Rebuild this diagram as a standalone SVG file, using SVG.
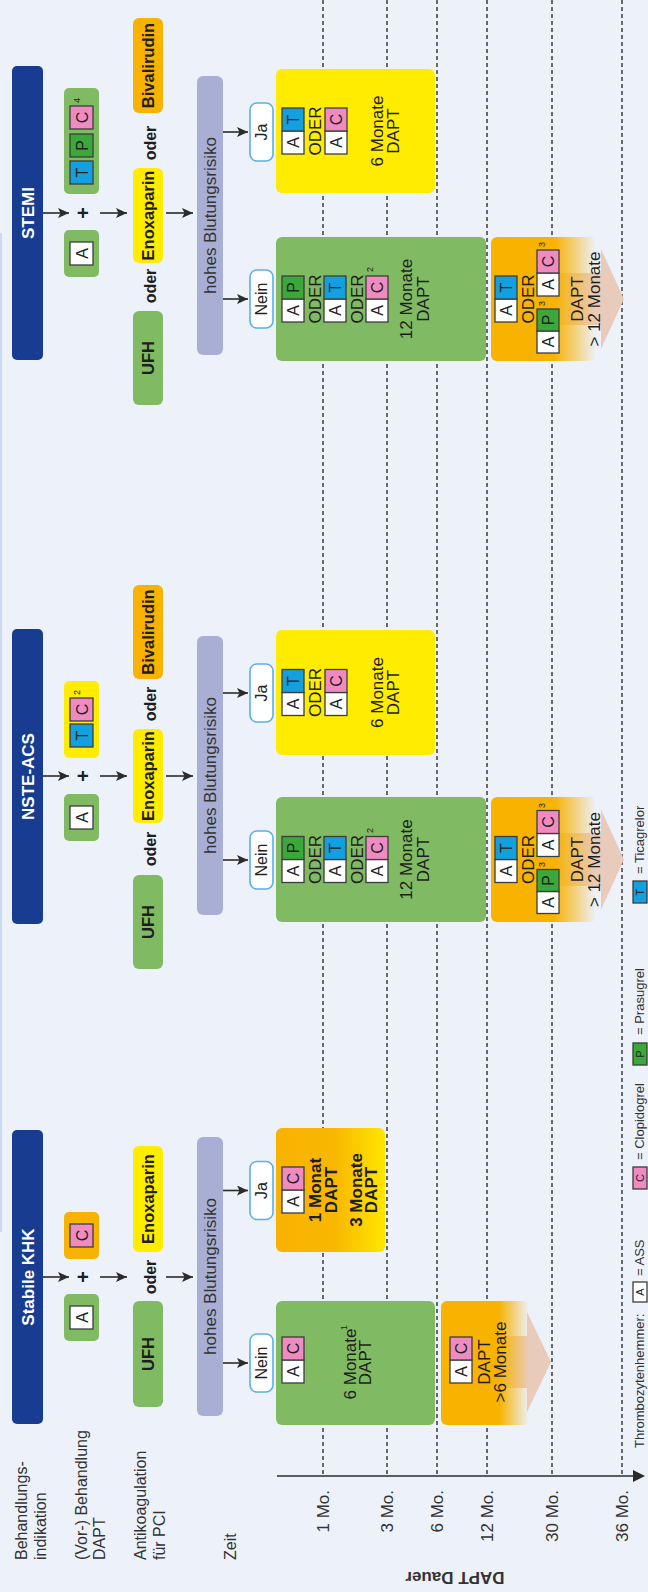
<svg xmlns="http://www.w3.org/2000/svg" width="648" height="1592" viewBox="0 0 648 1592">
<defs>
<style>
.lbl{font-family:"Liberation Sans",Arial,sans-serif;font-size:16px;fill:#333}
.ht{font-family:"Liberation Sans Narrow","Liberation Sans",Arial,sans-serif;font-stretch:condensed;font-weight:bold;font-size:17px;fill:#fff;text-anchor:middle}
.bt{font-family:"Liberation Sans Narrow","Liberation Sans",Arial,sans-serif;font-stretch:condensed;font-weight:bold;font-size:16.5px;fill:#1e1e1e;text-anchor:middle}
.od{font-family:"Liberation Sans",Arial,sans-serif;font-weight:bold;font-size:16px;fill:#1e1e1e;text-anchor:middle}
.pl{font-family:"Liberation Sans",Arial,sans-serif;font-weight:bold;font-size:20px;fill:#1e1e1e;text-anchor:middle}
.tx{font-family:"Liberation Sans Narrow","Liberation Sans",Arial,sans-serif;font-stretch:condensed;font-size:17px;fill:#1e1e1e;text-anchor:middle}
.txb{font-weight:bold}
.hb{font-family:"Liberation Sans",Arial,sans-serif;font-size:17px;fill:#333;text-anchor:middle}
.yn{font-family:"Liberation Sans",Arial,sans-serif;font-size:16px;fill:#222;text-anchor:middle}
.sl{font-family:"Liberation Sans",Arial,sans-serif;font-size:16px;fill:#222;text-anchor:middle}
.sls{font-family:"Liberation Sans",Arial,sans-serif;font-size:11px;fill:#222;text-anchor:middle}
.sup{font-family:"Liberation Sans",Arial,sans-serif;font-size:9px;fill:#222}
.mo{font-family:"Liberation Sans Narrow","Liberation Sans",Arial,sans-serif;font-stretch:condensed;font-size:17px;fill:#333;text-anchor:end}
.lg{font-family:"Liberation Sans",Arial,sans-serif;font-size:13px;fill:#333}
.hd{fill:#173c91}
.gr{fill:#80ba62}
.ye{fill:#ffec00}
.or{fill:#f8b200}
.lv{fill:#a9afd4}
.yb{fill:#fff;stroke:#5bb0e6;stroke-width:1.6}
.sq{stroke:#3c3c3c;stroke-width:1.3}
.a{fill:#fff}
.t{fill:#13a0df}
.p{fill:#3aa93a}
.c{fill:#f08bc1}
.dash{stroke:#474747;stroke-width:1.6;stroke-dasharray:4 3;fill:none}
.arr{fill:#e9cbbb}
.con{stroke:#2b2b2b;stroke-width:1.6;fill:none;marker-end:url(#ah)}
</style>
<marker id="ah" viewBox="0 0 11 10" refX="11" refY="5" markerWidth="11" markerHeight="10" orient="auto" markerUnits="userSpaceOnUse">
<path d="M0,0 L11,5 L0,10 L2.5,5 z" fill="#2b2b2b"/>
</marker>
<linearGradient id="gFade" x1="0" y1="0" x2="0" y2="1">
<stop offset="0" stop-color="#f8b200"/>
<stop offset="0.6" stop-color="#f8b200"/>
<stop offset="1" stop-color="#f8b200" stop-opacity="0"/>
</linearGradient>
<linearGradient id="gFadeK" x1="0" y1="0" x2="0" y2="1">
<stop offset="0" stop-color="#f8b200"/>
<stop offset="0.66" stop-color="#f8b200"/>
<stop offset="1" stop-color="#f8b200" stop-opacity="0"/>
</linearGradient>
<linearGradient id="gKja" x1="0" y1="0" x2="0" y2="1">
<stop offset="0" stop-color="#f8b200"/>
<stop offset="0.55" stop-color="#f9b800"/>
<stop offset="1" stop-color="#ffe600"/>
</linearGradient>
</defs>
<rect width="648" height="1592" fill="#edf1fa"/>
<!-- landscape layout, turned a quarter turn counter-clockwise -->
<g transform="matrix(0 -1 1 0 0 1592)">
<line x1="360" y1="1" x2="1359" y2="1" stroke="#c9dbf2" stroke-width="2"/>

<g id="row-labels">
<text class="lbl" x="32" y="26.5">Behandlungs-</text>
<text class="lbl" x="32" y="45.5">indikation</text>
<text class="lbl" x="32" y="87">(Vor-) Behandlung</text>
<text class="lbl" x="32" y="105">DAPT</text>
<text class="lbl" x="32" y="145.5">Antikoagulation</text>
<text class="lbl" x="32" y="164.5">für PCI</text>
<text class="lbl" x="32" y="236">Zeit</text>
</g>

<g id="time-axis">
<line class="dash" x1="118" y1="323" x2="1592" y2="323"/>
<line class="dash" x1="118" y1="387" x2="1592" y2="387"/>
<line class="dash" x1="118" y1="437" x2="1592" y2="437"/>
<line class="dash" x1="118" y1="487" x2="1592" y2="487"/>
<line class="dash" x1="118" y1="552" x2="1592" y2="552"/>
<line class="dash" x1="118" y1="622" x2="1592" y2="622"/>
<line x1="116" y1="277" x2="116" y2="636" stroke="#2b2b2b" stroke-width="1.6"/>
<polygon points="110,633 122,633 116,645" fill="#2b2b2b"/>
<text class="mo" x="102" y="329">1 Mo.</text>
<text class="mo" x="102" y="393">3 Mo.</text>
<text class="mo" x="102" y="443">6 Mo.</text>
<text class="mo" x="102" y="493">12 Mo.</text>
<text class="mo" x="102" y="558">30 Mo.</text>
<text class="mo" x="102" y="628">36 Mo.</text>
<text class="mo" transform="translate(20,455) rotate(-90)" style="text-anchor:middle;font-weight:bold" x="0" y="0">DAPT Dauer</text>
</g>

<!-- ===== Stabile KHK ===== -->
<g id="khk-header"><rect class="hd" x="168" y="12" width="294" height="31" rx="5"/><text class="ht" x="315" y="33.5">Stabile KHK</text></g>
<g id="khk-ass"><rect class="gr" x="251" y="64" width="47" height="35" rx="5"/><rect class="sq a" x="263" y="70" width="23" height="23"/><text class="sl" x="274.5" y="87.5">A</text></g>
<g id="khk-plus"><text class="pl" x="315" y="90">+</text></g>
<g id="khk-clopi"><rect class="or" x="333" y="64" width="47" height="35" rx="5"/><rect class="sq c" x="345" y="70" width="23" height="23"/><text class="sl" x="356.5" y="87.5">C</text></g>
<g id="khk-ufh"><rect class="gr" x="185" y="133" width="106" height="30" rx="6"/><text class="bt" x="238" y="154">UFH</text></g>
<g id="khk-oder"><text class="od" x="315" y="156">oder</text></g>
<g id="khk-enox"><rect class="ye" x="340" y="133" width="106" height="30" rx="6"/><text class="bt" x="393" y="154">Enoxaparin</text></g>
<g id="khk-risk"><rect class="lv" x="176" y="197" width="279" height="26" rx="6"/><text class="hb" x="315.5" y="216">hohes Blutungsrisiko</text></g>
<g id="khk-nein"><rect class="yb" x="200" y="250" width="58" height="23" rx="7"/><text class="yn" x="229" y="267">Nein</text></g>
<g id="khk-ja"><rect class="yb" x="372.5" y="250" width="58" height="23" rx="7"/><text class="yn" x="401.5" y="267">Ja</text></g>
<g id="khk-6m">
<rect class="gr" x="167" y="276" width="124" height="159" rx="6"/>
<rect class="sq a" x="209" y="282" width="23" height="22"/><rect class="sq c" x="232" y="282" width="23" height="22"/>
<text class="sl" x="220.5" y="299">A</text><text class="sl" x="243.5" y="299">C</text>
<text class="tx" x="228" y="356">6 Monate</text><text class="sup" x="262" y="347">1</text>
<text class="tx" x="229.5" y="371">DAPT</text>
</g>
<g id="khk-1m">
<rect x="340" y="276" width="124" height="109" rx="6" fill="url(#gKja)"/>
<rect class="sq a" x="379" y="282" width="23" height="22"/><rect class="sq c" x="402" y="282" width="23" height="22"/>
<text class="sl" x="390.5" y="299">A</text><text class="sl" x="413.5" y="299">C</text>
<text class="tx txb" x="402" y="321">1 Monat</text>
<text class="tx txb" x="402" y="337">DAPT</text>
<text class="tx txb" x="402" y="362">3 Monate</text>
<text class="tx txb" x="402" y="377">DAPT</text>
</g>
<g id="khk-long">
<polygon class="arr" points="204,490 256,490 256,527 280,527 230,551 180,527 204,527"/>
<rect x="167" y="441" width="124" height="88" rx="6" fill="url(#gFadeK)"/>
<rect class="sq a" x="209" y="450" width="23" height="22"/><rect class="sq c" x="232" y="450" width="23" height="22"/>
<text class="sl" x="220.5" y="467">A</text><text class="sl" x="243.5" y="467">C</text>
<text class="tx" x="230" y="490">DAPT</text>
<text class="tx" x="230" y="506">&gt;6 Monate</text>
</g>

<!-- ===== NSTE-ACS ===== -->
<g id="nste-header"><rect class="hd" x="668" y="12" width="295" height="31" rx="5"/><text class="ht" x="815.5" y="33.5">NSTE-ACS</text></g>
<g id="nste-ass"><rect class="gr" x="751" y="64" width="47" height="35" rx="5"/><rect class="sq a" x="763" y="70" width="23" height="23"/><text class="sl" x="774.5" y="87.5">A</text></g>
<g id="nste-plus"><text class="pl" x="816" y="90">+</text></g>
<g id="nste-p2y12"><rect class="ye" x="834" y="64" width="77" height="35" rx="5"/><rect class="sq t" x="845" y="70" width="23" height="23"/><text class="sl" x="856.5" y="87.5">T</text><rect class="sq c" x="871" y="70" width="23" height="23"/><text class="sl" x="882.5" y="87.5">C</text><text class="sup" x="897" y="80">2</text></g>
<g id="nste-ufh"><rect class="gr" x="623" y="133" width="94" height="30" rx="6"/><text class="bt" x="670" y="154">UFH</text></g>
<g id="nste-oder1"><text class="od" x="743" y="156">oder</text></g>
<g id="nste-enox"><rect class="ye" x="769" y="133" width="94" height="30" rx="6"/><text class="bt" x="816" y="154">Enoxaparin</text></g>
<g id="nste-oder2"><text class="od" x="888" y="156">oder</text></g>
<g id="nste-biva"><rect class="or" x="913" y="133" width="94" height="30" rx="6"/><text class="bt" x="960" y="154">Bivalirudin</text></g>
<g id="nste-risk"><rect class="lv" x="677" y="197" width="279" height="26" rx="6"/><text class="hb" x="816.5" y="216">hohes Blutungsrisiko</text></g>
<g id="nste-nein"><rect class="yb" x="703" y="250" width="58" height="23" rx="7"/><text class="yn" x="732" y="267">Nein</text></g>
<g id="nste-ja"><rect class="yb" x="870" y="250" width="58" height="23" rx="7"/><text class="yn" x="899" y="267">Ja</text></g>
<g id="nste-12m">
<rect class="gr" x="670" y="276" width="125" height="210" rx="6"/>
<rect class="sq a" x="709.5" y="282" width="23" height="22"/><rect class="sq p" x="732.5" y="282" width="23" height="22"/>
<text class="sl" x="721" y="299">A</text><text class="sl" x="744" y="299">P</text>
<text class="tx" x="732.5" y="321">ODER</text>
<rect class="sq a" x="709.5" y="324" width="23" height="22"/><rect class="sq t" x="732.5" y="324" width="23" height="22"/>
<text class="sl" x="721" y="341">A</text><text class="sl" x="744" y="341">T</text>
<text class="tx" x="732.5" y="363">ODER</text>
<rect class="sq a" x="709.5" y="366" width="23" height="22"/><rect class="sq c" x="732.5" y="366" width="23" height="22"/>
<text class="sl" x="721" y="383">A</text><text class="sl" x="744" y="383">C</text><text class="sup" x="759" y="373">2</text>
<text class="tx" x="732.5" y="412">12 Monate</text>
<text class="tx" x="732.5" y="429">DAPT</text>
</g>
<g id="nste-6m">
<rect class="ye" x="837" y="276" width="125" height="159" rx="6"/>
<rect class="sq a" x="876.5" y="282" width="23" height="22"/><rect class="sq t" x="899.5" y="282" width="23" height="22"/>
<text class="sl" x="888" y="299">A</text><text class="sl" x="911" y="299">T</text>
<text class="tx" x="899.5" y="321">ODER</text>
<rect class="sq a" x="876.5" y="325" width="23" height="22"/><rect class="sq c" x="899.5" y="325" width="23" height="22"/>
<text class="sl" x="888" y="342">A</text><text class="sl" x="911" y="342">C</text>
<text class="tx" x="899.5" y="383">6 Monate</text>
<text class="tx" x="899.5" y="399">DAPT</text>
</g>
<g id="nste-long">
<polygon class="arr" points="706,545 759,545 759,601 782.5,601 732.5,624 682.5,601 706,601"/>
<rect x="670" y="491" width="125" height="105" rx="6" fill="url(#gFade)"/>
<rect class="sq a" x="709.5" y="495" width="23" height="22"/><rect class="sq t" x="732.5" y="495" width="23" height="22"/>
<text class="sl" x="721" y="512">A</text><text class="sl" x="744" y="512">T</text>
<text class="tx" x="732.5" y="534">ODER</text>
<rect class="sq a" x="678.5" y="537" width="22" height="22"/><rect class="sq p" x="700.5" y="537" width="22" height="22"/>
<text class="sl" x="689.5" y="554">A</text><text class="sl" x="711.5" y="554">P</text><text class="sup" x="725" y="545">3</text>
<rect class="sq a" x="735.5" y="537" width="23" height="22"/><rect class="sq c" x="758.5" y="537" width="23" height="22"/>
<text class="sl" x="747" y="554">A</text><text class="sl" x="770" y="554">C</text><text class="sup" x="784" y="545">3</text>
<text class="tx" x="732.5" y="583">DAPT</text>
<text class="tx" x="732.5" y="600">&gt; 12 Monate</text>
</g>

<!-- ===== STEMI ===== -->
<g id="stemi-header"><rect class="hd" x="1232" y="12" width="294" height="31" rx="5"/><text class="ht" x="1379" y="33.5">STEMI</text></g>
<g id="stemi-ass"><rect class="gr" x="1315" y="64" width="47" height="35" rx="5"/><rect class="sq a" x="1327" y="70" width="23" height="23"/><text class="sl" x="1338.5" y="87.5">A</text></g>
<g id="stemi-plus"><text class="pl" x="1379" y="90">+</text></g>
<g id="stemi-p2y12"><rect class="gr" x="1398" y="64" width="106" height="35" rx="5"/><rect class="sq t" x="1408" y="70" width="23" height="23"/><text class="sl" x="1419.5" y="87.5">T</text><rect class="sq p" x="1435" y="70" width="23" height="23"/><text class="sl" x="1446.5" y="87.5">P</text><rect class="sq c" x="1463" y="70" width="23" height="23"/><text class="sl" x="1474.5" y="87.5">C</text><text class="sup" x="1489" y="80">4</text></g>
<g id="stemi-ufh"><rect class="gr" x="1187" y="133" width="94" height="30" rx="6"/><text class="bt" x="1234" y="154">UFH</text></g>
<g id="stemi-oder1"><text class="od" x="1306" y="156">oder</text></g>
<g id="stemi-enox"><rect class="ye" x="1329" y="133" width="95" height="30" rx="6"/><text class="bt" x="1376.5" y="154">Enoxaparin</text></g>
<g id="stemi-oder2"><text class="od" x="1449" y="156">oder</text></g>
<g id="stemi-biva"><rect class="or" x="1479" y="133" width="95" height="30" rx="6"/><text class="bt" x="1526.5" y="154">Bivalirudin</text></g>
<g id="stemi-risk"><rect class="lv" x="1237" y="197" width="279" height="26" rx="6"/><text class="hb" x="1376.5" y="216">hohes Blutungsrisiko</text></g>
<g id="stemi-nein"><rect class="yb" x="1264" y="250" width="58" height="23" rx="7"/><text class="yn" x="1293" y="267">Nein</text></g>
<g id="stemi-ja"><rect class="yb" x="1431" y="250" width="58" height="23" rx="7"/><text class="yn" x="1460" y="267">Ja</text></g>
<g id="stemi-12m">
<rect class="gr" x="1231" y="276" width="124" height="210" rx="6"/>
<rect class="sq a" x="1270" y="282" width="23" height="22"/><rect class="sq p" x="1293" y="282" width="23" height="22"/>
<text class="sl" x="1281.5" y="299">A</text><text class="sl" x="1304.5" y="299">P</text>
<text class="tx" x="1293" y="321">ODER</text>
<rect class="sq a" x="1270" y="324" width="23" height="22"/><rect class="sq t" x="1293" y="324" width="23" height="22"/>
<text class="sl" x="1281.5" y="341">A</text><text class="sl" x="1304.5" y="341">T</text>
<text class="tx" x="1293" y="363">ODER</text>
<rect class="sq a" x="1270" y="366" width="23" height="22"/><rect class="sq c" x="1293" y="366" width="23" height="22"/>
<text class="sl" x="1281.5" y="383">A</text><text class="sl" x="1304.5" y="383">C</text><text class="sup" x="1320" y="373">2</text>
<text class="tx" x="1293" y="412">12 Monate</text>
<text class="tx" x="1293" y="429">DAPT</text>
</g>
<g id="stemi-6m">
<rect class="ye" x="1399" y="276" width="124" height="159" rx="6"/>
<rect class="sq a" x="1438" y="282" width="23" height="22"/><rect class="sq t" x="1461" y="282" width="23" height="22"/>
<text class="sl" x="1449.5" y="299">A</text><text class="sl" x="1472.5" y="299">T</text>
<text class="tx" x="1461" y="321">ODER</text>
<rect class="sq a" x="1438" y="325" width="23" height="22"/><rect class="sq c" x="1461" y="325" width="23" height="22"/>
<text class="sl" x="1449.5" y="342">A</text><text class="sl" x="1472.5" y="342">C</text>
<text class="tx" x="1461" y="383">6 Monate</text>
<text class="tx" x="1461" y="399">DAPT</text>
</g>
<g id="stemi-long">
<polygon class="arr" points="1267,545 1319,545 1319,601 1343,601 1293,624 1243,601 1267,601"/>
<rect x="1231" y="491" width="124" height="105" rx="6" fill="url(#gFade)"/>
<rect class="sq a" x="1270" y="495" width="23" height="22"/><rect class="sq t" x="1293" y="495" width="23" height="22"/>
<text class="sl" x="1281.5" y="512">A</text><text class="sl" x="1304.5" y="512">T</text>
<text class="tx" x="1293" y="534">ODER</text>
<rect class="sq a" x="1239" y="537" width="22" height="22"/><rect class="sq p" x="1261" y="537" width="22" height="22"/>
<text class="sl" x="1250" y="554">A</text><text class="sl" x="1272" y="554">P</text><text class="sup" x="1286" y="545">3</text>
<rect class="sq a" x="1296" y="537" width="23" height="22"/><rect class="sq c" x="1319" y="537" width="23" height="22"/>
<text class="sl" x="1307.5" y="554">A</text><text class="sl" x="1330.5" y="554">C</text><text class="sup" x="1345" y="545">3</text>
<text class="tx" x="1293" y="583">DAPT</text>
<text class="tx" x="1293" y="600">&gt; 12 Monate</text>
</g>

<g id="connectors">
<line class="con" x1="315" y1="43" x2="315" y2="69"/>
<line class="con" x1="315" y1="100" x2="315" y2="127"/>
<line class="con" x1="315" y1="166" x2="315" y2="193"/>
<line class="con" x1="229" y1="223" x2="229" y2="248"/>
<line class="con" x1="401.5" y1="223" x2="401.5" y2="248"/>
<line class="con" x1="816" y1="43" x2="816" y2="69"/>
<line class="con" x1="816" y1="100" x2="816" y2="127"/>
<line class="con" x1="816" y1="166" x2="816" y2="193"/>
<line class="con" x1="732" y1="223" x2="732" y2="248"/>
<line class="con" x1="899" y1="223" x2="899" y2="248"/>
<line class="con" x1="1379" y1="43" x2="1379" y2="69"/>
<line class="con" x1="1379" y1="100" x2="1379" y2="127"/>
<line class="con" x1="1379" y1="166" x2="1379" y2="193"/>
<line class="con" x1="1293" y1="223" x2="1293" y2="248"/>
<line class="con" x1="1460" y1="223" x2="1460" y2="248"/>
</g>

<g id="legend">
<text class="lg" x="144" y="644">Thrombozytenhemmer:</text>
<rect class="sq a" x="290" y="633" width="20" height="14"/><text class="sls" x="300" y="644">A</text>
<text class="lg" x="316" y="644">= ASS</text>
<rect class="sq c" x="403" y="633" width="22" height="14"/><text class="sls" x="414" y="644">C</text>
<text class="lg" x="432" y="644">= Clopidogrel</text>
<rect class="sq p" x="527" y="633" width="22" height="14"/><text class="sls" x="538" y="644">P</text>
<text class="lg" x="557" y="644">= Prasugrel</text>
<rect class="sq t" x="689" y="633" width="22" height="14"/><text class="sls" x="700" y="644">T</text>
<text class="lg" x="718" y="644">= Ticagrelor</text>
</g>
</g>
</svg>
